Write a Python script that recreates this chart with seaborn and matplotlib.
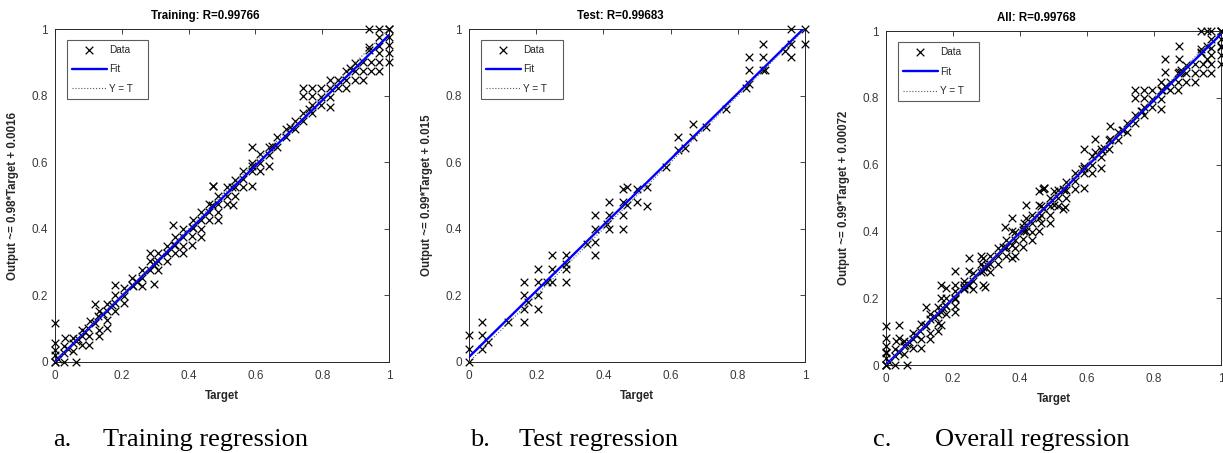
import numpy as np
import pandas as pd
import seaborn as sns
import matplotlib.pyplot as plt

# values (target, network output)
TRAIN_TARGET = [
    0, 0, 0, 0, 0, 0, 0.01, 0.028, 0.028, 0.028, 0.03, 0.04,
    0.053, 0.055, 0.055, 0.063, 0.063, 0.07, 0.08, 0.08, 0.08, 0.09,
    0.1, 0.103, 0.103, 0.105, 0.12, 0.12, 0.13, 0.132, 0.132, 0.132,
    0.145, 0.155, 0.155, 0.155, 0.155, 0.17, 0.18, 0.18, 0.18, 0.18,
    0.206, 0.206, 0.206, 0.232, 0.232, 0.234, 0.245, 0.26, 0.26, 0.26,
    0.285, 0.285, 0.285, 0.296, 0.296, 0.3, 0.309, 0.309, 0.309,
    0.334, 0.334, 0.334, 0.354, 0.355, 0.359, 0.359, 0.359,
    0.384, 0.384, 0.384, 0.384, 0.409, 0.409, 0.41, 0.412, 0.412,
    0.437, 0.437, 0.437, 0.437, 0.462, 0.462, 0.462, 0.47, 0.472, 0.472,
    0.489, 0.489, 0.489, 0.489, 0.514, 0.514, 0.514, 0.53, 0.533, 0.538, 0.538, 0.538,
    0.563, 0.563, 0.563, 0.59, 0.59, 0.59, 0.59, 0.59, 0.615, 0.615, 0.615,
    0.641, 0.641, 0.641, 0.65, 0.665, 0.665, 0.693, 0.693, 0.705, 0.718, 0.718,
    0.743, 0.743, 0.743, 0.743, 0.76, 0.77, 0.77, 0.77, 0.77,
    0.795, 0.795, 0.795, 0.822, 0.822, 0.822, 0.822, 0.847, 0.847,
    0.872, 0.872, 0.872, 0.882, 0.897, 0.897, 0.897, 0.922, 0.922, 0.922,
    0.941, 0.941, 0.941, 0.946, 0.946, 0.971, 0.971, 0.971, 0.971, 0.971, 0.971,
    1, 1, 1, 1, 1, 1,
]
TRAIN_OUTPUT = [
    0, 0, 0.02, 0.037, 0.057, 0.117, 0.01, 0, 0.027, 0.047, 0.072, 0.04,
    0.072, 0.032, 0.057, 0, 0.062, 0.07, 0.077, 0.097, 0.052, 0.09,
    0.102, 0.052, 0.077, 0.122, 0.117, 0.175, 0.137, 0.097, 0.077, 0.152,
    0.145, 0.102, 0.127, 0.152, 0.175, 0.172, 0.152, 0.177, 0.232, 0.2,
    0.197, 0.177, 0.222, 0.232, 0.252, 0.227, 0.24, 0.227, 0.252, 0.275,
    0.327, 0.302, 0.277, 0.292, 0.234, 0.3, 0.327, 0.302, 0.277,
    0.302, 0.327, 0.349, 0.412, 0.35, 0.352, 0.327, 0.375,
    0.327, 0.349, 0.375, 0.399, 0.352, 0.377, 0.405, 0.402, 0.425,
    0.375, 0.399, 0.425, 0.45, 0.425, 0.45, 0.475, 0.47, 0.53, 0.53,
    0.425, 0.45, 0.475, 0.499, 0.475, 0.499, 0.525, 0.525, 0.472, 0.499, 0.525, 0.547,
    0.527, 0.55, 0.575, 0.53, 0.575, 0.597, 0.647, 0.59, 0.575, 0.599, 0.625,
    0.589, 0.622, 0.647, 0.65, 0.647, 0.675, 0.675, 0.699, 0.705, 0.699, 0.725,
    0.725, 0.749, 0.799, 0.822, 0.76, 0.749, 0.772, 0.799, 0.822,
    0.772, 0.797, 0.822, 0.797, 0.822, 0.847, 0.765, 0.822, 0.847,
    0.822, 0.847, 0.875, 0.882, 0.847, 0.875, 0.897, 0.847, 0.875, 0.902,
    0.937, 0.947, 1.0, 0.902, 0.875, 0.875, 0.902, 0.927, 0.949, 0.977, 1.0,
    1, 1, 0.977, 0.952, 0.927, 0.902,
]
TEST_TARGET = [
    0, 0, 0, 0.04, 0.04, 0.04, 0.058, 0.115, 0.165, 0.165, 0.165, 0.165, 0.175,
    0.205, 0.205, 0.205, 0.205, 0.233, 0.248, 0.248, 0.248, 0.29, 0.29, 0.29, 0.29,
    0.35, 0.375, 0.375, 0.375, 0.375, 0.41, 0.417, 0.417, 0.417,
    0.458, 0.458, 0.458, 0.458, 0.469, 0.469, 0.5, 0.5, 0.529, 0.529,
    0.586, 0.623, 0.623, 0.644, 0.668, 0.668, 0.706, 0.765,
    0.823, 0.833, 0.833, 0.833, 0.876, 0.876, 0.876, 0.88, 0.94,
    0.957, 0.957, 0.957, 1.0, 1.0,
]
TEST_OUTPUT = [
    0, 0.04, 0.08, 0.12, 0.08, 0.04, 0.06, 0.12, 0.24, 0.2, 0.16, 0.12, 0.18,
    0.28, 0.24, 0.2, 0.16, 0.24, 0.32, 0.28, 0.24, 0.32, 0.28, 0.24, 0.293,
    0.353, 0.44, 0.4, 0.36, 0.32, 0.413, 0.48, 0.44, 0.4,
    0.52, 0.48, 0.44, 0.4, 0.527, 0.47, 0.52, 0.48, 0.527, 0.468,
    0.587, 0.677, 0.637, 0.642, 0.716, 0.677, 0.705, 0.761,
    0.823, 0.836, 0.876, 0.915, 0.955, 0.915, 0.876, 0.876, 0.935,
    0.955, 1.0, 0.915, 1.0, 0.955,
]
assert len(TRAIN_TARGET) == len(TRAIN_OUTPUT)
assert len(TEST_TARGET) == len(TEST_OUTPUT)

# "All" panel = training + test samples
ALL_TARGET = TRAIN_TARGET + TEST_TARGET
ALL_OUTPUT = TRAIN_OUTPUT + TEST_OUTPUT

# linear fit (slope, intercept) as printed on the y labels
TRAIN_FIT = (0.98, 0.0016)
TEST_FIT = (0.99, 0.015)
ALL_FIT = (0.99, 0.00072)

TARGET_RANGE = [0, 1]
TICKS = [0, 0.2, 0.4, 0.6, 0.8, 1]
TICK_LABELS = ["0", "0.2", "0.4", "0.6", "0.8", "1"]

TITLES = ["Training: R=0.99766", "Test: R=0.99683", "All: R=0.99768"]
YLABELS = [
    "Output ~= 0.98*Target + 0.0016",
    "Output ~= 0.99*Target + 0.015",
    "Output ~= 0.99*Target + 0.00072",
]
CAPTION_LETTERS = ["a.", "b.", "c."]
CAPTION_TEXTS = ["Training regression", "Test regression", "Overall regression"]

W, H = 1223, 453
# axes boxes in pixels: left, top, right, bottom
AX_BOXES = [(55, 29, 389, 362), (469, 29, 805, 362), (886, 31, 1221, 365)]
CAPTION_X = [(53, 103), (470, 519), (873, 935)]

INK = "#262626"


def draw_panel(ax, target, output, fit, title, ylabel, box_w, box_h):
    fit_y = [fit[0] * t + fit[1] for t in TARGET_RANGE]
    sns.scatterplot(x=target, y=output, marker="x", color="black", s=30,
                    linewidth=0.9, ax=ax, label="Data", clip_on=False, zorder=3)
    sns.lineplot(x=TARGET_RANGE, y=fit_y, color="#0000ff", linewidth=1.7,
                 ax=ax, label="Fit", zorder=4)
    # trailing spaces widen the legend box like MATLAB's
    sns.lineplot(x=TARGET_RANGE, y=TARGET_RANGE, color="#555555", linewidth=0.8,
                 linestyle=":", ax=ax, label="Y = T    ", zorder=5)

    ax.set_xlim(0, 1)
    ax.set_ylim(0, 1)
    ax.set_xticks(TICKS)
    ax.set_xticklabels(TICK_LABELS)
    ax.set_yticks(TICKS)
    ax.set_yticklabels(TICK_LABELS)
    ax.tick_params(direction="in", top=True, right=True, length=3.5, width=0.6,
                   color=INK, labelsize=8.5, labelcolor="#3a3a3a")
    ax.tick_params(axis="y", pad=5)
    ax.tick_params(axis="x", pad=6)
    for sp in ax.spines.values():
        sp.set_color(INK)
        sp.set_linewidth(0.7)

    ax.set_xlabel("Target", fontsize=8.3, fontweight="bold", color=INK)
    ax.set_ylabel(ylabel, fontsize=8.3, fontweight="bold", color=INK)
    ax.xaxis.set_label_coords(0.5, -28 / box_h)
    ax.yaxis.set_label_coords(-36 / box_w, 0.5)
    ax.text(0.5 - 17 / box_w, 1 + 13 / box_h, title, transform=ax.transAxes,
            ha="center", va="center", fontsize=8.3, fontweight="bold", color="black")

    leg = ax.legend(loc="upper left", bbox_to_anchor=(0.035, 0.967), borderaxespad=0,
                    fontsize=7.2, frameon=True, fancybox=False, handlelength=3.5,
                    handletextpad=0.2, labelspacing=0.95, borderpad=0.5)
    leg.get_frame().set_edgecolor("#333333")
    leg.get_frame().set_linewidth(0.8)


sns.set_theme(style="white")
plt.rcParams["font.family"] = ["Liberation Sans", "DejaVu Sans"]

fig = plt.figure(figsize=(W / 100, H / 100), dpi=100)
panels = [
    (TRAIN_TARGET, TRAIN_OUTPUT, TRAIN_FIT),
    (TEST_TARGET, TEST_OUTPUT, TEST_FIT),
    (ALL_TARGET, ALL_OUTPUT, ALL_FIT),
]
for i, (tgt, out, fit) in enumerate(panels):
    l, t, r, b = AX_BOXES[i]
    ax = fig.add_axes([l / W, (H - b) / H, (r - l) / W, (b - t) / H])
    draw_panel(ax, tgt, out, fit, TITLES[i], YLABELS[i], r - l, b - t)
    lx, tx = CAPTION_X[i]
    fig.text(lx / W, 7 / H, CAPTION_LETTERS[i], fontsize=19, va="baseline",
             family=["Liberation Serif", "DejaVu Serif"], color="black")
    fig.text(tx / W, 7 / H, CAPTION_TEXTS[i], fontsize=19, va="baseline",
             family=["Liberation Serif", "DejaVu Serif"], color="black")

fig.savefig("out.png", dpi=100)
